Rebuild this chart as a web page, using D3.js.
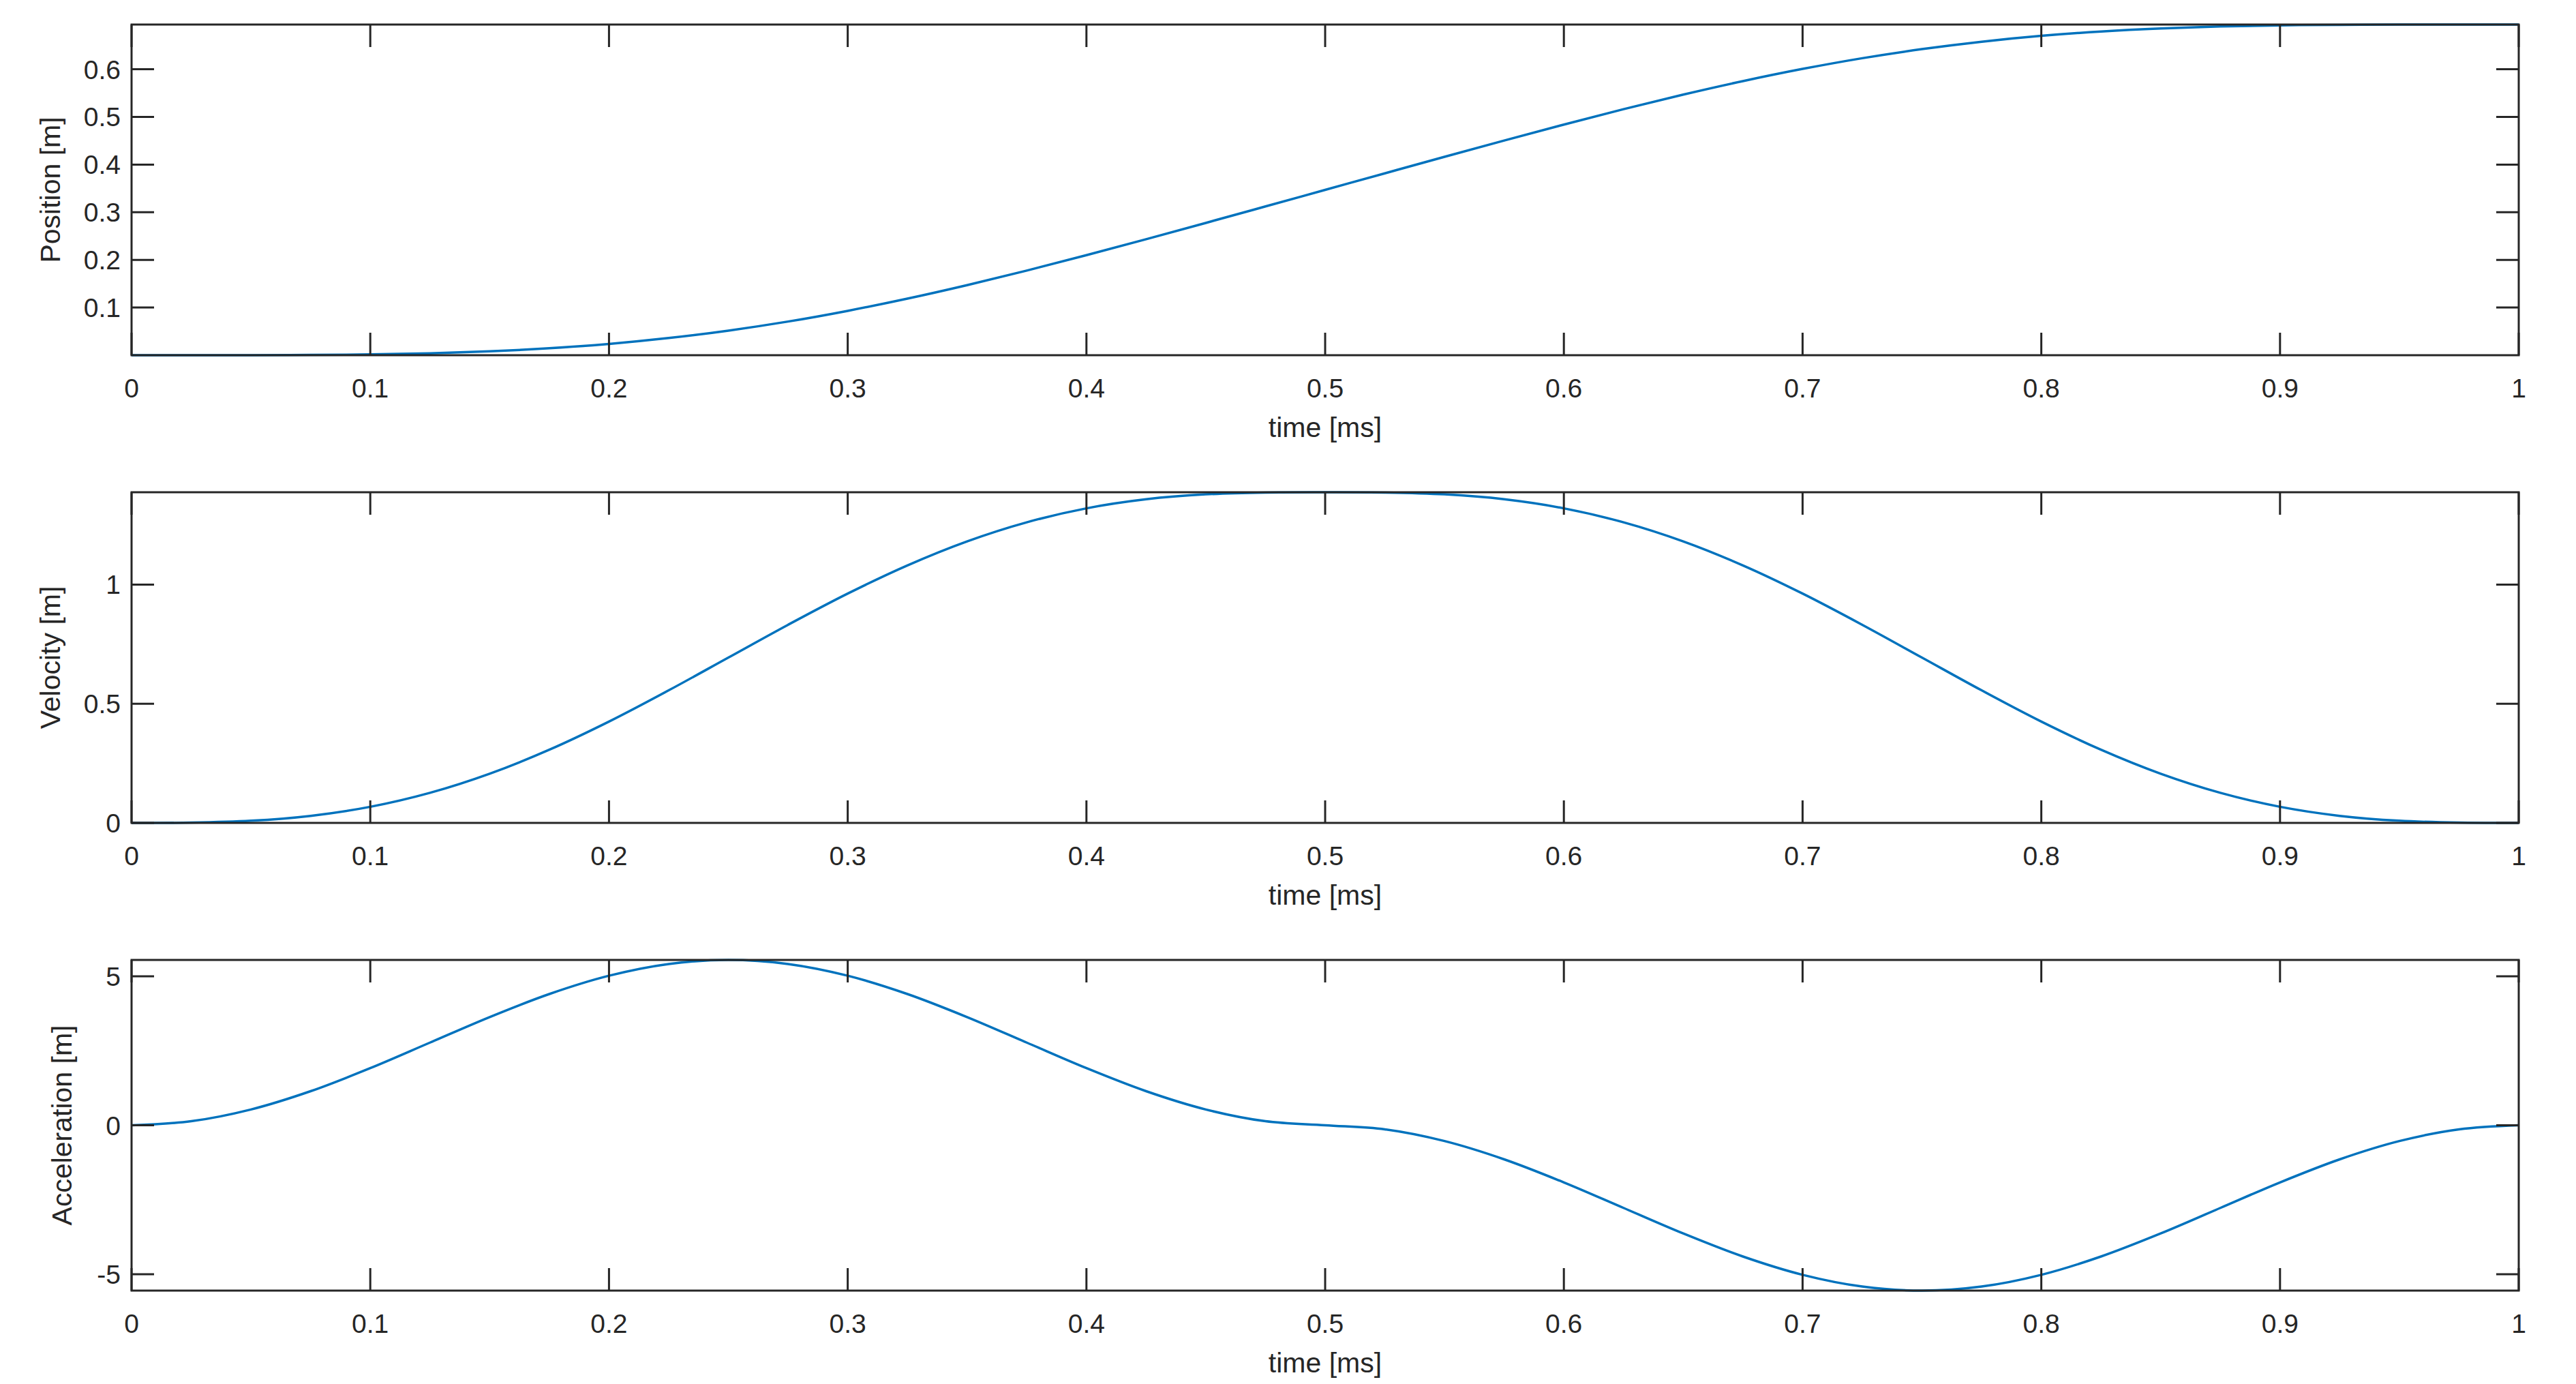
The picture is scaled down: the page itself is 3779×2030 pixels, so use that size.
<!DOCTYPE html>
<html>
<head>
<meta charset="utf-8">
<script src="https://cdn.jsdelivr.net/npm/d3@7"></script>
<style>
  body { margin: 0; background: #fff; }
  text { font-family: "Liberation Sans", Arial, sans-serif; fill: #262626; }
</style>
</head>
<body>
<svg id="chart" width="3779" height="2030"></svg>
<script>
// time samples [ms]
var time = d3.range(0, 41).map(function(k){ return k / 40 })

var position = [0, 0, 0.0001, 0.0006, 0.0017, 0.0041, 0.0082, 0.0146, 0.0237, 0.0360, 0.0516,
  0.0706, 0.0931, 0.1187, 0.1470, 0.1776, 0.2099, 0.2434, 0.2776, 0.3122, 0.3469,
  0.3816, 0.4162, 0.4504, 0.4839, 0.5162, 0.5468, 0.5751, 0.6007, 0.6232, 0.6422,
  0.6578, 0.6701, 0.6792, 0.6856, 0.6897, 0.6921, 0.6932, 0.6937, 0.6938, 0.6938]

var velocity = [0, 0.0012, 0.0090, 0.0295, 0.0675, 0.1261, 0.2063, 0.3070, 0.4252, 0.5562, 0.6938,
  0.8313, 0.9623, 1.0805, 1.1813, 1.2614, 1.3200, 1.3580, 1.3786, 1.3863, 1.3875,
  1.3863, 1.3786, 1.3580, 1.3200, 1.2614, 1.1813, 1.0805, 0.9623, 0.8313, 0.6938,
  0.5562, 0.4252, 0.3070, 0.2063, 0.1261, 0.0675, 0.0295, 0.0090, 0.0012, 0]

var acceleration = [0, 0.136, 0.530, 1.144, 1.918, 2.775, 3.632, 4.406, 5.020, 5.414, 5.550,
  5.414, 5.020, 4.406, 3.632, 2.775, 1.918, 1.144, 0.530, 0.136, 0,
  -0.136, -0.530, -1.144, -1.918, -2.775, -3.632, -4.406, -5.020, -5.414, -5.550,
  -5.414, -5.020, -4.406, -3.632, -2.775, -1.918, -1.144, -0.530, -0.136, 0]

var xTicks = [0, 0.1, 0.2, 0.3, 0.4, 0.5, 0.6, 0.7, 0.8, 0.9, 1]
var posTicks = [0.1, 0.2, 0.3, 0.4, 0.5, 0.6]
var velTicks = [0, 0.5, 1]
var accTicks = [-5, 0, 5]

var panels = [
  {values: position, domain: [0, 0.6938], ticks: posTicks, label: "Position [m]", top: 36, titleX: 88},
  {values: velocity, domain: [0, 1.3875], ticks: velTicks, label: "Velocity [m]", top: 722, titleX: 88},
  {values: acceleration, domain: [-5.55, 5.55], ticks: accTicks, label: "Acceleration [m]", top: 1408, titleX: 105}
]

var left = 193, right = 3695, ph = 485
var tickLen = 33
var svg = d3.select("#chart")
var x = d3.scaleLinear().domain([0, 1]).range([left, right])

panels.forEach(function(p){
  var y = d3.scaleLinear().domain(p.domain).range([p.top + ph, p.top])
  var g = svg.append("g")

  var line = d3.line()
      .x(function(d, i){ return x(time[i]) })
      .y(function(d){ return y(d) })
      .curve(d3.curveCatmullRom)

  g.append("path")
    .datum(p.values)
    .attr("d", line)
    .attr("fill", "none")
    .attr("stroke", "#0072BD")
    .attr("stroke-width", 3.5)

  // box
  g.append("rect")
    .attr("x", left).attr("y", p.top)
    .attr("width", right - left).attr("height", ph)
    .attr("fill", "none").attr("stroke", "#262626").attr("stroke-width", 3)

  // x ticks, bottom and top
  xTicks.forEach(function(t){
    g.append("line").attr("x1", x(t)).attr("x2", x(t))
      .attr("y1", p.top + ph).attr("y2", p.top + ph - tickLen)
      .attr("stroke", "#262626").attr("stroke-width", 3)
    g.append("line").attr("x1", x(t)).attr("x2", x(t))
      .attr("y1", p.top).attr("y2", p.top + tickLen)
      .attr("stroke", "#262626").attr("stroke-width", 3)
    g.append("text").attr("x", x(t)).attr("y", p.top + ph + 62)
      .attr("text-anchor", "middle").attr("font-size", 39).text(t)
  })

  // y ticks, left and right
  p.ticks.forEach(function(t){
    g.append("line").attr("x1", left).attr("x2", left + tickLen)
      .attr("y1", y(t)).attr("y2", y(t))
      .attr("stroke", "#262626").attr("stroke-width", 3)
    g.append("line").attr("x1", right).attr("x2", right - tickLen)
      .attr("y1", y(t)).attr("y2", y(t))
      .attr("stroke", "#262626").attr("stroke-width", 3)
    g.append("text").attr("x", left - 16).attr("y", y(t) + 14)
      .attr("text-anchor", "end").attr("font-size", 39).text(t)
  })

  g.append("text").attr("x", (left + right) / 2).attr("y", p.top + ph + 120)
    .attr("text-anchor", "middle").attr("font-size", 41).text("time [ms]")

  g.append("text")
    .attr("transform", "translate(" + p.titleX + "," + (p.top + ph / 2) + ") rotate(-90)")
    .attr("text-anchor", "middle").attr("font-size", 41).text(p.label)
})
</script>
</body>
</html>
